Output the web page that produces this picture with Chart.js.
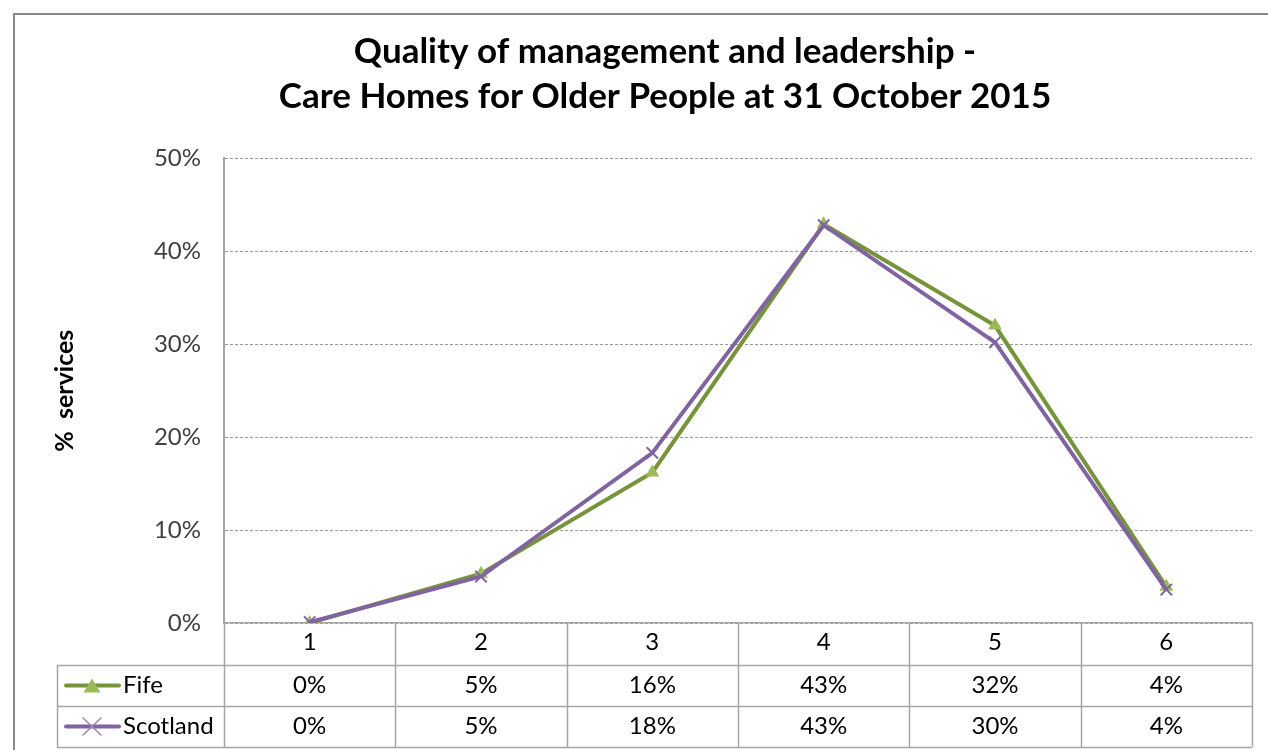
<!DOCTYPE html>
<html>
<head>
<meta charset="utf-8">
<script src="https://cdn.jsdelivr.net/npm/chart.js@4/dist/chart.umd.min.js"></script>
<style>
  html, body { margin: 0; padding: 0; background: #fff; }
  #wrap { width: 1268px; height: 750px; position: relative; }
</style>
</head>
<body>
<div id="wrap"><canvas id="c" width="1268" height="750"></canvas></div>
<script>
const categories = ['1', '2', '3', '4', '5', '6'];
const fifeValues = [0.0, 5.3, 16.2, 42.9, 32.0, 3.9];
const scotlandValues = [0.1, 5.0, 18.3, 42.8, 30.2, 3.6];
const yTickValues = [0, 10, 20, 30, 40, 50];
const seriesNames = ['Fife', 'Scotland'];
const titleLines = ['Quality of management and leadership -', 'Care Homes for Older People at 31 October 2015'];
const yAxisTitle = '%  services';

const FONT = 'Lato, "Open Sans", sans-serif';
const GREEN = '#77933C';
const GREEN_FILL = '#9BBB59';
const PURPLE = '#8064A2';
const TABLE_LINE = '#a6a6a6';
const TEXT = '#404040';
const PAD_LEFT = 78;

const tablePlugin = {
  id: 'dataTable',
  beforeDraw(chart) {
    const ctx = chart.ctx;
    ctx.save();
    ctx.strokeStyle = '#888888';
    ctx.lineWidth = 2;
    ctx.strokeRect(14, 14, 1400, 900);
    ctx.restore();
  },
  afterDraw(chart) {
    const ctx = chart.ctx;
    const x = chart.scales.x;
    const area = chart.chartArea;
    const rowH = 41;
    const headerBottom = area.bottom + 42;
    const tableBottom = headerBottom + rowH * 2;
    const tableLeft = 57;
    const n = categories.length;
    const half = (x.getPixelForValue(1) - x.getPixelForValue(0)) / 2;
    ctx.save();
    ctx.strokeStyle = TABLE_LINE;
    ctx.lineWidth = 1.5;
    for (let i = 0; i <= n; i++) {
      const px = Math.round(x.getPixelForValue(i) - half) + 0.5;
      ctx.beginPath();
      ctx.moveTo(px, area.bottom);
      ctx.lineTo(px, tableBottom);
      ctx.stroke();
    }
    ctx.beginPath();
    ctx.moveTo(tableLeft + 0.5, headerBottom);
    ctx.lineTo(tableLeft + 0.5, tableBottom);
    ctx.stroke();
    for (let r = 0; r <= 2; r++) {
      const py = Math.round(headerBottom + r * rowH) + 0.5;
      ctx.beginPath();
      ctx.moveTo(tableLeft, py);
      ctx.lineTo(area.right, py);
      ctx.stroke();
    }
    const rows = [
      { name: seriesNames[0], vals: fifeValues, color: GREEN, fill: GREEN_FILL, marker: 'triangle' },
      { name: seriesNames[1], vals: scotlandValues, color: PURPLE, fill: PURPLE, marker: 'cross' }
    ];
    ctx.font = '24px ' + FONT;
    ctx.fillStyle = '#000';
    ctx.textBaseline = 'middle';
    rows.forEach((row, r) => {
      const cy = headerBottom + r * rowH + rowH / 2;
      ctx.strokeStyle = row.color;
      ctx.lineWidth = 4;
      ctx.lineCap = 'round';
      ctx.beginPath();
      ctx.moveTo(66, cy);
      ctx.lineTo(119, cy);
      ctx.stroke();
      const mx = 92;
      if (row.marker === 'triangle') {
        ctx.fillStyle = row.fill;
        ctx.beginPath();
        ctx.moveTo(mx, cy - 7);
        ctx.lineTo(mx + 8.5, cy + 7);
        ctx.lineTo(mx - 8.5, cy + 7);
        ctx.closePath();
        ctx.fill();
      } else {
        ctx.strokeStyle = '#9B85BD';
        ctx.lineWidth = 1.5;
        ctx.beginPath();
        ctx.moveTo(mx - 9, cy - 8.5); ctx.lineTo(mx + 9, cy + 8.5);
        ctx.moveTo(mx + 9, cy - 8.5); ctx.lineTo(mx - 9, cy + 8.5);
        ctx.stroke();
      }
      ctx.fillStyle = '#000';
      ctx.textAlign = 'left';
      ctx.fillText(row.name, 123, cy);
      ctx.textAlign = 'center';
      row.vals.forEach((v, i) => {
        ctx.fillText(Math.round(v) + '%', x.getPixelForValue(i), cy);
      });
    });
    ctx.restore();
  }
};

new Chart(document.getElementById('c'), {
  type: 'line',
  data: {
    labels: categories,
    datasets: [
      {
        label: seriesNames[0],
        data: fifeValues,
        borderColor: GREEN,
        backgroundColor: GREEN_FILL,
        borderWidth: 4,
        pointStyle: 'triangle',
        pointRadius: 8,
        pointBorderWidth: 0,
        pointBackgroundColor: GREEN_FILL,
        pointBorderColor: GREEN_FILL,
        tension: 0,
        order: 1
      },
      {
        label: seriesNames[1],
        data: scotlandValues,
        borderColor: PURPLE,
        backgroundColor: PURPLE,
        borderWidth: 4,
        pointStyle: 'crossRot',
        pointRadius: 8,
        pointBorderWidth: 2,
        pointBorderColor: PURPLE,
        tension: 0,
        order: 0
      }
    ]
  },
  options: {
    responsive: false,
    animation: false,
    layout: { padding: { left: PAD_LEFT, right: 16, top: 0, bottom: 0 } },
    plugins: {
      legend: { display: false },
      tooltip: { enabled: false },
      title: {
        display: true,
        text: titleLines,
        color: '#000',
        font: { family: FONT, size: 35, weight: 'bold', lineHeight: 1.29 },
        padding: { top: 29, bottom: 39 }
      }
    },
    scales: {
      x: {
        offset: true,
        grid: { display: false, drawTicks: false },
        border: { display: true, color: TABLE_LINE, width: 1.5 },
        ticks: { color: '#000', font: { family: FONT, size: 24 }, padding: 5 },
        afterFit(scale) { scale.height = 127; }
      },
      y: {
        min: 0,
        max: 50,
        afterBuildTicks(scale) { scale.ticks = yTickValues.map(v => ({ value: v })); },
        grid: {
          color: '#9a9a9a',
          lineWidth: 1,
          drawTicks: false
        },
        border: { display: true, color: '#a6a6a6', width: 2, dash: [3, 2] },
        ticks: {
          color: TEXT,
          font: { family: FONT, size: 24 },
          padding: 23,
          callback: v => v + '%'
        },
        title: {
          display: true,
          text: yAxisTitle,
          color: '#000',
          font: { family: FONT, size: 25, weight: 'bold' },
          padding: { top: 65 - PAD_LEFT - 15, bottom: 0 }
        },
        afterFit(scale) { scale.width = 224 - PAD_LEFT; }
      }
    }
  },
  plugins: [tablePlugin]
});
</script>
</body>
</html>
